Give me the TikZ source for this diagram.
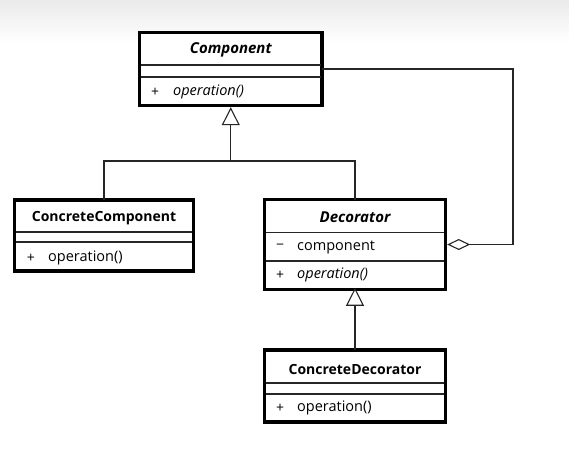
\documentclass[tikz,border=0pt]{standalone}
\usepackage{fontspec}
\setmainfont{Open Sans}
\usetikzlibrary{arrows.meta}
\begin{document}
\begin{tikzpicture}[x=1pt,y=-1pt,
  classbox/.style={draw=black,line width=3.5pt,inner sep=0pt,outer sep=0pt,fill=white},
  divider/.style={draw=black!85,line width=1.3pt},
  title/.style={inner sep=0pt,font=\fontsize{14}{16}\selectfont\bfseries},
  abstract/.style={inner sep=0pt,font=\fontsize{15}{17}\selectfont\bfseries\itshape},
  member/.style={inner sep=0pt,anchor=west,font=\fontsize{14.5}{17}\selectfont},
  sign/.style={inner sep=0pt,font=\fontsize{14}{16}\selectfont},
  link/.style={draw=black!85,line width=1.1pt},
  inherit/.style={link,-{Triangle[open,length=18pt,width=18pt,line width=1.1pt]}},
  aggregate/.style={link,{Diamond[open,length=23pt,width=11pt,line width=1.1pt]}-}]

\useasboundingbox (0,0) rectangle (569,448);
\fill[white] (0,0) rectangle (569,448);
\shade[top color=black!8,bottom color=white] (0,0) rectangle (569,43);

% Component
\node[classbox,minimum width=182.5pt,minimum height=73pt] (comp) at (230.75,69) {};
\draw[divider] (141,65) -- (320.5,65);
\draw[divider] (141,77) -- (320.5,77);
\node[abstract] (compT) at (230.75,50) {Component};
\node[sign] (compS) at (155,92) {+};
\node[member] (compO) at (173,92) {\itshape operation()};

% ConcreteComponent
\node[classbox,minimum width=179pt,minimum height=71pt] (ccomp) at (104,235.5) {};
\draw[divider] (16,232) -- (192,232);
\draw[divider] (16,242) -- (192,242);
\node[title] (ccompT) at (104,218) {ConcreteComponent};
\node[sign] (ccompS) at (31,258) {+};
\node[member] (ccompO) at (48,258) {operation()};

% Decorator
\node[classbox,minimum width=181pt,minimum height=90pt] (dec) at (355,244.5) {};
\draw[divider] (266,232.3) -- (444,232.3);
\draw[divider] (266,261) -- (444,261);
\node[abstract] (decT) at (355,217) {Decorator};
\node[sign] (decS) at (280,247) {\textminus};
\node[member] (decC) at (297,247) {component};
\node[sign] (decS2) at (280,275) {+};
\node[member] (decO) at (297,275) {\itshape operation()};

% ConcreteDecorator
\node[classbox,minimum width=181pt,minimum height=72pt] (cdec) at (355,386) {};
\draw[divider] (266,383) -- (444,383);
\draw[divider] (266,394) -- (444,394);
\node[title] (cdecT) at (355,369) {ConcreteDecorator};
\node[sign] (cdecS) at (280,408) {+};
\node[member] (cdecO) at (297,408) {operation()};

% inheritance tree
\coordinate (join) at (230.75,161);
\draw[link] (ccomp.north) |- (join) -| (dec.north);
\draw[inherit] (join) -- ([yshift=-1.7pt]comp.south);
\draw[inherit] (cdec.north) -- ([yshift=1.7pt]dec.south);

% aggregation back to Component
\coordinate (bend) at (513,0);
\draw[aggregate] ([xshift=1.7pt]dec.east) -- (dec.east -| bend) |- (comp.east);
\end{tikzpicture}
\end{document}
